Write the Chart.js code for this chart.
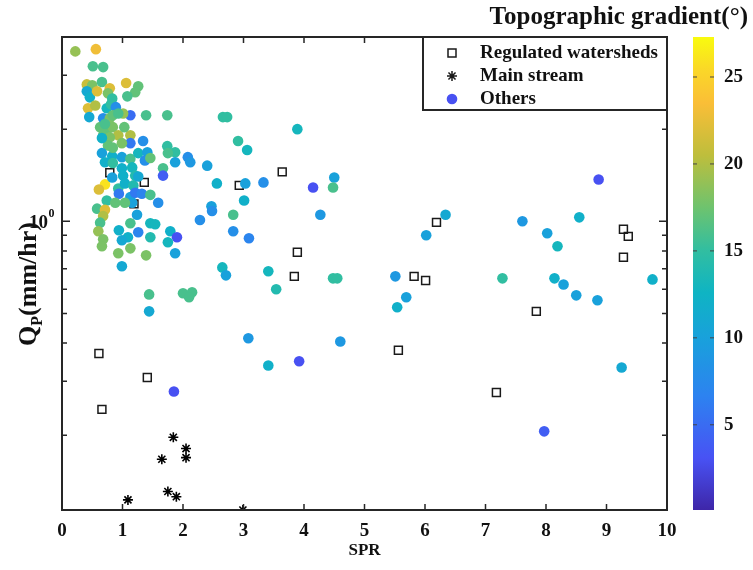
<!DOCTYPE html>
<html>
<head>
<meta charset="utf-8">
<script src="https://cdn.jsdelivr.net/npm/chart.js@4/dist/chart.umd.min.js"></script>
<style>
  html, body { margin: 0; padding: 0; background: #fff; }
</style>
</head>
<body>
<canvas id="mychart" width="753" height="570"></canvas>
<script>
// regulated watersheds (squares)
var regSpr = [0.79, 1.36, 1.19, 2.93, 3.64, 3.89, 3.84, 0.61, 1.41, 0.66, 5.82, 6.01, 5.56, 6.19, 7.18, 7.84, 9.28, 9.36, 9.28];
var regQp = [1.44, 1.34, 1.14, 1.31, 1.45, 0.792, 0.661, 0.370, 0.309, 0.243, 0.661, 0.641, 0.379, 0.992, 0.276, 0.508, 0.942, 0.893, 0.763];

// main stream (asterisks)
var mainSpr = [1.84, 2.05, 2.05, 1.65, 1.75, 1.89, 1.09, 2.99];
var mainQp = [0.197, 0.181, 0.169, 0.167, 0.131, 0.126, 0.123, 0.114];

// others, coloured by topographic gradient
var otherSpr = [
  0.22, 0.56, 0.51, 0.68, 0.41, 0.50, 0.66, 0.79, 1.06, 1.26,
  1.21, 1.08, 0.41, 0.46, 0.58, 0.76, 0.83, 0.43, 0.55, 0.45,
  0.74, 0.81, 0.89, 1.13, 1.01, 1.39, 1.74, 0.68, 0.79, 0.63,
  0.74, 0.84, 0.93, 1.13, 0.68, 0.79, 0.76, 1.13, 1.34, 0.66,
  0.66, 0.83, 0.99, 1.13, 1.26, 1.41, 1.37, 1.46, 1.74, 1.87,
  1.75, 1.87, 2.08, 2.12, 2.40, 1.67, 1.67, 0.71, 0.84, 0.99,
  1.16, 1.01, 1.21, 0.71, 0.61, 0.83, 0.93, 1.04, 1.18, 1.26,
  0.94, 1.13, 1.21, 1.32, 1.46, 1.59, 1.16, 0.58, 0.74, 0.88,
  1.04, 0.71, 0.68, 0.63, 1.24, 1.13, 1.46, 1.54, 0.94, 1.26,
  1.09, 0.99, 1.46, 1.79, 1.90, 1.75, 0.60, 0.68, 0.66, 0.93,
  1.13, 1.39, 0.99, 1.87, 1.44, 1.44, 2.00, 2.15, 2.10, 2.66,
  2.73, 3.89, 2.91, 3.06, 2.56, 3.03, 3.33, 3.01, 2.47, 2.48,
  2.83, 2.28, 2.83, 3.09, 2.65, 2.71, 3.41, 3.54, 4.48, 4.55,
  3.08, 4.60, 3.41, 3.92, 1.85, 4.50, 4.15, 4.48, 4.27, 6.34,
  6.02, 7.61, 8.02, 8.19, 8.55, 8.87, 5.51, 5.69, 5.54, 7.28,
  8.14, 8.29, 8.50, 8.85, 9.76, 9.25, 7.97, 0.84, 0.93, 0.71,
  1.03, 0.99, 0.84
];
var otherQp = [
  3.59, 3.65, 3.21, 3.19, 2.80, 2.78, 2.85, 2.72, 2.83, 2.76,
  2.64, 2.56, 2.66, 2.54, 2.66, 2.62, 2.52, 2.34, 2.39, 2.19,
  2.34, 2.41, 2.36, 2.22, 2.25, 2.22, 2.22, 2.17, 2.17, 2.03,
  1.98, 2.03, 1.91, 1.91, 1.91, 1.88, 1.77, 1.80, 1.83, 1.87,
  1.67, 1.63, 1.62, 1.60, 1.67, 1.68, 1.58, 1.61, 1.76, 1.68,
  1.67, 1.56, 1.62, 1.56, 1.52, 1.49, 1.41, 1.56, 1.55, 1.49,
  1.50, 1.41, 1.41, 1.32, 1.27, 1.39, 1.28, 1.33, 1.31, 1.40,
  1.23, 1.20, 1.24, 1.23, 1.22, 1.15, 1.15, 1.10, 1.17, 1.15,
  1.15, 1.09, 1.04, 0.99, 1.05, 0.985, 0.985, 0.978, 0.935, 0.921,
  0.887, 0.867, 0.887, 0.928, 0.887, 0.854, 0.928, 0.873, 0.829, 0.786,
  0.816, 0.774, 0.713, 0.786, 0.577, 0.508, 0.582, 0.586, 0.565, 2.19,
  2.19, 2.00, 1.83, 1.71, 1.33, 1.33, 1.34, 1.17, 1.12, 1.08,
  1.05, 1.01, 0.928, 0.880, 0.707, 0.666, 0.687, 0.600, 0.651, 0.651,
  0.415, 0.405, 0.338, 0.349, 0.278, 1.39, 1.29, 1.29, 1.05, 1.05,
  0.900, 1.00, 0.914, 0.829, 1.03, 1.37, 0.661, 0.565, 0.524, 0.651,
  0.651, 0.622, 0.573, 0.552, 0.646, 0.333, 0.206, 2.22, 2.25, 2.08,
  2.03, 1.80, 1.74
];
var otherSlope = [
  19, 23, 16, 16, 21, 18, 16, 22, 22, 17,
  17, 16, 11, 12, 22, 18, 15, 22, 20, 11,
  13, 15, 8, 5, 19, 16, 16, 8, 18, 17,
  17, 18, 20, 20, 17, 18, 17, 6, 8, 12,
  10, 12, 10, 16, 13, 10, 8, 17, 15, 15,
  16, 10, 8, 9, 10, 16, 4, 12, 15, 12,
  13, 12, 14, 26, 22, 10, 15, 12, 14, 11,
  6, 10, 6, 7, 16, 8, 10, 16, 15, 17,
  17, 22, 20, 16, 10, 16, 13, 13, 12, 7,
  12, 11, 14, 12, 3, 13, 19, 18, 18, 18,
  18, 18, 11, 10, 16, 11, 16, 16, 16, 15,
  15, 13, 15, 13, 12, 10, 8, 12, 10, 8,
  16, 8, 8, 7, 13, 10, 13, 14, 15, 15,
  9, 9, 12, 3, 3, 10, 3, 16, 9, 11,
  10, 9, 10, 13, 12, 3, 9, 10, 12, 15,
  12, 10, 10, 10, 12, 11, 4, 17, 16, 16,
  17, 18, 17
];

var xTicks = [0, 1, 2, 3, 4, 5, 6, 7, 8, 9, 10];
var yTicks = [0.2, 0.3, 0.4, 0.5, 0.6, 0.7, 0.8, 0.9, 1, 2, 3];
var cbTicks = [5, 10, 15, 20, 25];
var cbMin = 0.1, cbMax = 27.3;

var legendNames = ['Regulated watersheds', 'Main stream', 'Others'];

// parula-like colormap
var parulaPos = [0, 0.11, 0.24, 0.36, 0.46, 0.55, 0.64, 0.75, 0.86, 0.93, 1];
var parulaRgb = [[62,38,168],[72,82,244],[45,130,240],[25,160,220],[15,180,195],[50,190,160],[110,195,110],[190,190,60],[250,190,55],[250,215,40],[249,251,14]];

function colorFor(v) {
  var t = (v - cbMin) / (cbMax - cbMin);
  t = Math.max(0, Math.min(1, t));
  for (var i = 1; i < parulaPos.length; i++) {
    if (t <= parulaPos[i]) {
      var f = (t - parulaPos[i-1]) / (parulaPos[i] - parulaPos[i-1]);
      var a = parulaRgb[i-1], b = parulaRgb[i];
      return 'rgb(' + Math.round(a[0] + (b[0]-a[0])*f) + ',' + Math.round(a[1] + (b[1]-a[1])*f) + ',' + Math.round(a[2] + (b[2]-a[2])*f) + ')';
    }
  }
  return 'rgb(249,251,14)';
}

function pts(xs, ys) {
  var out = [];
  for (var i = 0; i < xs.length; i++) out.push({x: xs[i], y: ys[i]});
  return out;
}

var serif = "'Liberation Serif', 'Times New Roman', serif";
var ink = '#111';

var decor = {
  id: 'decor',
  afterDatasetsDraw: function(chart) {
    var c = chart.ctx, a = chart.chartArea;
    var xs = chart.scales.x, ys = chart.scales.y, cb = chart.scales.cb;
    c.save();

    // inward ticks on all four sides
    c.strokeStyle = '#262626';
    c.lineWidth = 1.5;
    c.beginPath();
    xTicks.forEach(function(v) {
      var px = xs.getPixelForValue(v);
      c.moveTo(px, a.bottom); c.lineTo(px, a.bottom - 6);
      c.moveTo(px, a.top); c.lineTo(px, a.top + 6);
    });
    yTicks.forEach(function(v) {
      var py = ys.getPixelForValue(v);
      var len = v === 1 ? 8 : 5;
      c.moveTo(a.left, py); c.lineTo(a.left + len, py);
      c.moveTo(a.right, py); c.lineTo(a.right - len, py);
    });
    c.stroke();

    // box
    c.lineWidth = 2;
    c.strokeRect(a.left, a.top, a.right - a.left, a.bottom - a.top);

    // legend
    var lx = 423, ly = a.top, lw = a.right - lx, lh = 73;
    c.fillStyle = '#fff';
    c.fillRect(lx, ly, lw, lh);
    c.strokeRect(lx, ly, lw, lh);
    var mx = 452, rows = [ly + 16, ly + 39, ly + 62];
    c.lineWidth = 1.5;
    c.strokeStyle = '#1a1a1a';
    c.strokeRect(mx - 4, rows[0] - 4, 8, 8);
    c.beginPath();
    for (var k = 0; k < 4; k++) {
      var ang = k * Math.PI / 4;
      c.moveTo(mx - 5 * Math.cos(ang), rows[1] - 5 * Math.sin(ang));
      c.lineTo(mx + 5 * Math.cos(ang), rows[1] + 5 * Math.sin(ang));
    }
    c.stroke();
    c.fillStyle = colorFor(3);
    c.beginPath(); c.arc(mx, rows[2], 5.3, 0, Math.PI * 2); c.fill();
    c.fillStyle = ink;
    c.font = 'bold 19px ' + serif;
    c.textAlign = 'left';
    c.textBaseline = 'middle';
    legendNames.forEach(function(n, i) { c.fillText(n, 480, rows[i]); });

    // colorbar
    var bx = cb.left + 26, bw = 21;
    var yTop = cb.getPixelForValue(cbMax), yBot = cb.getPixelForValue(cbMin);
    var g = c.createLinearGradient(0, yBot, 0, yTop);
    parulaPos.forEach(function(p, i) {
      var col = parulaRgb[i];
      g.addColorStop(p, 'rgb(' + col[0] + ',' + col[1] + ',' + col[2] + ')');
    });
    c.fillStyle = g;
    c.fillRect(bx, yTop, bw, yBot - yTop);
    c.strokeStyle = '#444';
    c.lineWidth = 1;
    c.beginPath();
    cbTicks.forEach(function(v) {
      var py = cb.getPixelForValue(v);
      c.moveTo(bx + bw, py); c.lineTo(bx + bw - 4, py);
      c.moveTo(bx, py); c.lineTo(bx + 4, py);
    });
    c.stroke();

    // y tick label 10^0
    var p1 = ys.getPixelForValue(1);
    c.fillStyle = ink;
    c.textBaseline = 'alphabetic';
    c.textAlign = 'right';
    c.font = 'bold 19px ' + serif;
    c.fillText('10', 48, p1 + 7);
    c.textAlign = 'left';
    c.font = 'bold 12px ' + serif;
    c.fillText('0', 48.5, p1 - 4);

    // y axis title Q_P(mm/hr)
    c.translate(36, 284);
    c.rotate(-Math.PI / 2);
    var fBig = 'bold 26px ' + serif, fSub = 'bold 16px ' + serif;
    c.font = fBig; var wQ = c.measureText('Q').width, wT = c.measureText('(mm/hr)').width;
    c.font = fSub; var wP = c.measureText('P').width;
    var x0 = -(wQ + wP + wT) / 2;
    c.textAlign = 'left';
    c.font = fBig; c.fillText('Q', x0, 0);
    c.font = fSub; c.fillText('P', x0 + wQ, 6);
    c.font = fBig; c.fillText('(mm/hr)', x0 + wQ + wP, 0);
    c.restore();
  }
};

var ctx = document.getElementById('mychart');
var myChart = new Chart(ctx, {
  type: 'scatter',
  data: {
    datasets: [
      {
        label: 'Others',
        data: pts(otherSpr, otherQp),
        pointStyle: 'circle',
        pointRadius: 5.3,
        pointBorderWidth: 0,
        pointBackgroundColor: otherSlope.map(colorFor),
        order: 0
      },
      {
        label: 'Regulated watersheds',
        data: pts(regSpr, regQp),
        pointStyle: 'rect',
        pointRadius: 5.6,
        pointBackgroundColor: 'rgba(255,255,255,0)',
        pointBorderColor: '#1a1a1a',
        pointBorderWidth: 1.5,
        order: 1
      },
      {
        label: 'Main stream',
        data: pts(mainSpr, mainQp),
        pointStyle: 'star',
        pointRadius: 5,
        pointBorderColor: '#000',
        pointBorderWidth: 1.6,
        clip: 0,
        order: 2
      }
    ]
  },
  options: {
    responsive: false,
    animation: false,
    events: [],
    layout: { padding: { left: 0, right: 5, top: 0, bottom: 0 } },
    plugins: {
      legend: { display: false },
      tooltip: { enabled: false },
      title: {
        display: true,
        text: 'Topographic gradient(°)',
        align: 'end',
        color: ink,
        font: { family: serif, size: 25, weight: 'bold' },
        padding: { top: 3, bottom: 4 }
      }
    },
    scales: {
      x: {
        type: 'linear', position: 'bottom', min: 0, max: 10,
        afterBuildTicks: function(s) { s.ticks = xTicks.map(function(v) { return {value: v}; }); },
        afterFit: function(s) { s.height = 60; },
        grid: { display: false, drawTicks: false },
        border: { display: false },
        ticks: { color: ink, autoSkip: false, maxRotation: 0, padding: 10, font: { family: serif, size: 19, weight: 'bold' } },
        title: { display: true, text: 'SPR', color: ink, font: { family: serif, size: 17, weight: 'bold' }, padding: { top: 0, bottom: 9 } }
      },
      y: {
        type: 'logarithmic', position: 'left', min: 0.114, max: 4,
        afterBuildTicks: function(s) { s.ticks = yTicks.map(function(v) { return {value: v}; }); },
        afterFit: function(s) { s.width = 62; },
        grid: { display: false, drawTicks: false },
        border: { display: false },
        ticks: { display: false },
        title: { display: false }
      },
      cb: {
        type: 'linear', position: 'right', min: cbMin, max: cbMax,
        afterBuildTicks: function(s) { s.ticks = cbTicks.map(function(v) { return {value: v}; }); },
        afterFit: function(s) { s.width = 81; },
        grid: { display: true, drawOnChartArea: false, drawTicks: true, tickLength: 55, color: 'rgba(0,0,0,0)' },
        border: { display: false },
        ticks: { color: ink, padding: 2, font: { family: serif, size: 19, weight: 'bold' } }
      }
    }
  },
  plugins: [decor]
});
</script>
</body>
</html>
